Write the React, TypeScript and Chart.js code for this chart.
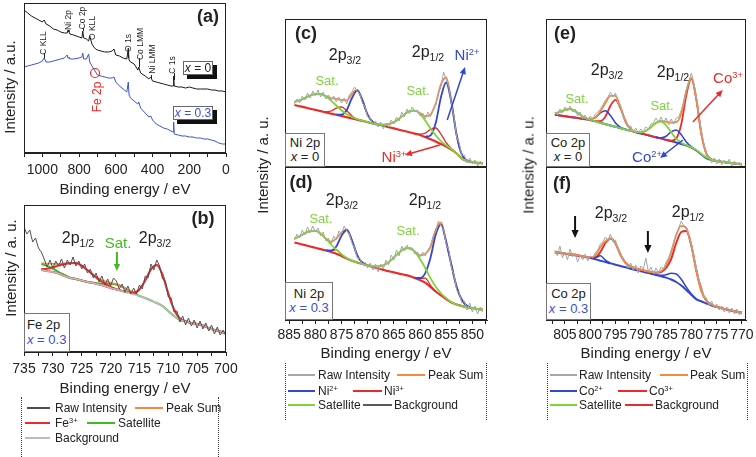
import React, { useEffect, useRef } from "react";
import { Chart, registerables } from "chart.js";
Chart.register(...registerables);

const FF = '"Liberation Sans", Arial, Helvetica, sans-serif';
const INK = "#222222";
const ORANGE = "#f58a3a";
const BLUE = "#3447cf";
const RED = "#ea2b2b";
const LIME = "#7fd43c";
const GREEN_B = "#3fbb20";
const RAW_LIGHT = "#a4a7ab";
const RAW_DARK = "#4d5157";
const BG_LIGHT = "#bdbdbd";
const BG_DARK = "#5a5a5a";
const TXT_BLUE = "#3a4fd0";
const SURVEY_BLUE = "#3a55d5";

// ---------------- (a) survey ----------------
const SURVEY_E = [1100, 1080, 1060, 1040, 1020, 1000, 990, 980, 960, 940, 920, 900, 880, 865, 860, 855, 850, 830, 800, 785, 780, 775, 760, 748, 742, 730, 720, 710, 700, 680, 660, 640, 620, 610, 600, 580, 560, 540, 532, 528, 520, 500, 480, 475, 465, 440, 420, 410, 400, 380, 360, 340, 320, 300, 287, 285, 282, 260, 240, 220, 200, 180, 160, 140, 120, 100, 80, 60, 40, 20, 0];
const SURVEY_X0 = [143, 140, 137, 135, 133, 131, 133, 129, 127, 124, 123, 121, 120, 120, 123, 121, 119, 118, 116, 115, 122, 115, 114, 112, 117, 109, 106, 104, 103, 102, 101, 101, 102, 104, 98, 97, 95, 94, 105, 93, 91, 89, 83, 86, 80, 77, 74, 76, 72, 71, 70, 69, 68, 67, 67, 77, 67, 66, 66, 65, 66, 65, 64, 64, 64, 64, 63, 63, 62, 62, 61];
const SURVEY_X03 = [86, 87, 88, 89, 90, 92, 95, 91, 91, 92, 93, 94, 95, 98, 95, 96, 94, 94, 95, 96, 100, 94, 94, 99, 91, 87, 84, 81, 78, 77, 76, 75, 75, 76, 71, 67, 64, 61, 71, 58, 55, 52, 49, 51, 45, 40, 36, 37, 33, 29, 27, 25, 24, 22, 21, 31, 19, 18, 17, 17, 16, 16, 15, 15, 14, 14, 13, 12, 10, 9, 9];
const SURVEY_TICKS = [0, 100, 200, 300, 400, 500, 600, 700, 800, 900, 1000, 1100];
const SURVEY_LABELS = [0, 200, 400, 600, 800, 1000];

// ---------------- (b) Fe 2p ----------------
const FE_RAW_E = [735, 734.5, 734, 733.5, 733, 732.5, 732, 731.5, 731, 730.5, 730, 729.5, 729, 728.5, 728, 727.5, 727, 726.5, 726, 725.5, 725, 724.5, 724, 723.5, 723, 722.5, 722, 721.5, 721, 720.5, 720, 719.5, 719, 718.5, 718, 717.5, 717, 716.5, 716, 715.5, 715, 714.5, 714, 713.5, 713, 712.5, 712, 711.5, 711, 710.5, 710, 709.5, 709, 708.5, 708, 707.5, 707, 706.5, 706, 705.5, 705, 704.5, 704, 703.5, 703, 702.5, 702, 701.5, 701, 700.5, 700];
const FE_RAW = [125, 118, 122, 110, 114, 104, 100, 93, 85, 92, 84, 91, 86, 93, 84, 92, 87, 95, 86, 91, 83, 88, 79, 83, 74, 79, 70, 76, 67, 73, 66, 74, 71, 63, 68, 60, 66, 58, 64, 58, 67, 63, 76, 74, 88, 82, 92, 86, 73, 71, 55, 54, 40, 41, 30, 36, 27, 34, 26, 32, 24, 31, 23, 29, 21, 27, 18, 25, 17, 22, 16];
const FE_FIT_E = [732, 731, 730, 729, 728, 727, 726, 725, 724, 723, 722, 721, 720, 719, 718, 717, 716, 715, 714, 713, 712, 711, 710, 709, 708, 707, 706, 705, 704, 703, 702, 701, 700];
const FE_BG = [82, 81, 80, 78.5, 76, 74, 73, 71.5, 70, 69, 67.5, 66, 64, 62.5, 61, 59.5, 57.5, 56, 54, 51.5, 49, 46, 41, 36, 32, 30.5, 29, 28, 26.5, 24, 22, 20.5, 18.5];
const FE_SAT = [88, 86, 83.5, 80, 77, 74.3, 73, 71.5, 70, 69.3, 68.6, 68.5, 68.2, 67.5, 65.2, 62, 58.8, 56, 54, 51.5, 49, 46, 41, 36, 32, 30.5, 29, 28, 26.5, 24, 22, 20.5, 18.5];
const FE_P1 = [83, 83.3, 84.7, 86.5, 87.8, 88.8, 89, 86.3, 81.8, 77, 72.2, 68.3, 65, 62.9, 61.1, 59.5, null, null, null, null, null, null, null, null, null, null, null, null, null, null, null, null, null];
const FE_P2 = [82, 81, 80, 78.5, 76, 74, 73, 71.5, 70, 69, 67.5, 66, 64, 62.5, 61, 59.8, 59.1, 62.5, 71.4, 82.7, 87, 77.2, 58.4, 42.5, 33.6, 30.8, 29, 28, 26.5, 24, 22, 20.5, 18.5];
const FE_SUM = [89, 88.3, 88.2, 88, 88.8, 89.1, 89, 86.3, 82.1, 77.3, 73.3, 70.8, 69.2, 67.9, 65.3, 62.3, 60.2, 62.8, 71.4, 82.7, 87, 77.2, 58.4, 42.5, 33.6, 30.8, 29, 28, 26.5, 24, 22, 20.5, 18.5];
const FE_TICKS = [700, 702.5, 705, 707.5, 710, 712.5, 715, 717.5, 720, 722.5, 725, 727.5, 730, 732.5, 735];
const FE_LABELS = [700, 705, 710, 715, 720, 725, 730, 735];

// ---------------- (c), (d) Ni 2p ----------------
const NI_RAW_E = [884, 883.5, 883, 882.5, 882, 881.5, 881, 880.5, 880, 879.5, 879, 878.5, 878, 877.5, 877, 876.5, 876, 875.5, 875, 874.5, 874, 873.5, 873, 872.5, 872, 871.5, 871, 870.5, 870, 869.5, 869, 868.5, 868, 867.5, 867, 866.5, 866, 865.5, 865, 864.5, 864, 863.5, 863, 862.5, 862, 861.5, 861, 860.5, 860, 859.5, 859, 858.5, 858, 857.5, 857, 856.5, 856, 855.5, 855, 854.5, 854, 853.5, 853, 852.5, 852, 851.5, 851, 850.5, 850, 849.5, 849, 848.5, 848];
const NI_FIT_E = [884, 883, 882, 881, 880, 879, 878, 877, 876, 875, 874, 873, 872, 871, 870, 869, 868, 867, 866, 865, 864, 863, 862, 861, 860, 859, 858, 857, 856, 855, 854, 853, 852, 851, 850, 849, 848];
const NI_TICKS = [847.5, 850, 852.5, 855, 857.5, 860, 862.5, 865, 867.5, 870, 872.5, 875, 877.5, 880, 882.5, 885];
const NI_LABELS = [850, 855, 860, 865, 870, 875, 880, 885];

const NI0_RAW = [63, 68, 64, 71, 67, 74, 69, 76, 71, 77, 70, 75, 68, 72, 66, 71, 65, 70, 64, 69, 63, 72, 75, 80, 76, 73, 64, 60, 50, 49, 42, 46, 40, 45, 38, 44, 40, 47, 43, 50, 46, 55, 50, 58, 53, 60, 55, 57, 51, 54, 48, 55, 50, 58, 62, 74, 80, 95, 88, 80, 63, 50, 30, 24, 11, 12, 4, 9, 3, 7, 1, 6, 2];
const NI0_BG = [62, 60.8, 59.6, 58.3, 57.1, 55.9, 54.6, 53.4, 52.2, 51, 49.7, 48.5, 47.3, 46.1, 44.8, 43.6, 42.4, 41.2, 39.9, 38.6, 37.3, 36, 34.7, 33.4, 32, 30, 27.8, 25.5, 23, 20.5, 17.5, 13.5, 8.5, 6, 5, 4.2, 3.7];
const NI0_SAT = [65.1, 66.6, 68.9, 71.3, 73, 72.9, 70.5, 66.4, 61.5, 56.8, 52.8, 50, 47.9, 46.3, 44.8, 43.6, 42.8, 42.3, 42.8, 44.7, 48.2, 52.5, 55.9, 56.4, 53.2, 46.5, 38.7, 31.6, 25.9, 21.6, 17.9, 13.5, 8.5, 6, 5, 4.2, 3.7];
const NI0_NI2 = [null, null, null, null, null, null, null, null, 52.3, 52.3, 57, 69, 76.3, 66.6, 52.1, 44.9, 42.5, null, null, null, null, null, null, null, null, 30.4, 31.6, 43.9, 69.8, 84.5, 64.3, 31.9, 12.3, 6.4, 5, null, null];
const NI0_NI3 = [null, null, null, null, null, null, 55.1, 56, 58.8, 60, 56.3, 51.1, 47.8, 46.1, null, null, null, null, null, null, null, null, null, 33.4, 32.8, 33.9, 37.7, 39, 32.9, 24.4, 18.3, 13.5, null, null, null, null, null];
const NI0_SUM = [65.1, 66.6, 68.9, 71.3, 73, 72.9, 71, 69, 68.2, 67.1, 66.7, 73.1, 77.4, 66.8, 52.1, 44.9, 42.9, 42.3, 42.8, 44.7, 48.2, 52.5, 55.9, 56.4, 54, 50.8, 52.4, 63.5, 82.6, 89.5, 65.5, 31.9, 12.3, 6.4, 5, 4.2, 3.7];

const NI03_RAW = [80, 86, 82, 90, 85, 93, 87, 94, 88, 92, 84, 88, 79, 82, 76, 84, 80, 89, 86, 94, 89, 86, 77, 72, 62, 62, 55, 58, 52, 57, 50, 56, 48, 56, 51, 60, 55, 65, 60, 70, 64, 74, 69, 75, 70, 72, 66, 68, 63, 68, 64, 70, 74, 84, 88, 99, 95, 90, 76, 70, 52, 45, 30, 27, 17, 19, 10, 17, 8, 14, 6, 13, 8];
const NI03_BG = [77.5, 76.2, 74.9, 73.5, 72.2, 70.9, 69.5, 68, 66.3, 64, 61.5, 59.3, 57.5, 56, 54.5, 53, 51.5, 50, 48.8, 47.6, 46.4, 45.2, 44, 42, 40, 37.3, 33, 28.5, 24.6, 21, 17.5, 15.5, 14, 12.6, 11.8, 11, 10.5];
const NI03_SAT = [81.5, 83.7, 86.7, 89, 89.2, 86.4, 81.3, 75.5, 70.3, 65.8, 62.1, 59.4, 57.5, 56, 54.8, 53.9, 53.6, 54.7, 57.7, 62.3, 67.4, 71.3, 72, 68.1, 61, 52, 41.9, 33.2, 26.7, 21.9, 17.8, 15.5, 14, 12.6, 11.8, 11, 10.5];
const NI03_NI2 = [null, null, null, null, null, null, 69.6, 69.3, 73.5, 84.2, 90, 79.5, 64.7, 57.3, 54.6, null, null, null, null, null, null, null, null, 42.3, 42, 46.9, 62.2, 85.3, 95.6, 77.8, 55, 33, 20, 14, 11.8, null, null];
const NI03_NI3 = [null, null, null, null, null, null, 69.6, 69.5, 70.3, 65.5, 61.6, null, null, null, null, null, null, null, null, null, null, null, null, 42, 41.7, 41.8, 34.7, 28.6, null, null, null, null, null, null, null, null, null];
const NI03_SUM = [81.5, 83.7, 86.7, 89, 89.2, 86.4, 81.5, 78.3, 81.5, 87.5, 90.7, 79.6, 64.7, 57.3, 54.9, 53.9, 53.6, 54.7, 57.7, 62.3, 67.4, 71.3, 72, 68.4, 64.7, 66.1, 72.8, 90.1, 97.7, 78.7, 55.3, 33, 20, 14, 11.8, 11, 10.5];

// ---------------- (e), (f) Co 2p ----------------
const CO_RAW_E = [807, 806.5, 806, 805.5, 805, 804.5, 804, 803.5, 803, 802.5, 802, 801.5, 801, 800.5, 800, 799.5, 799, 798.5, 798, 797.5, 797, 796.5, 796, 795.5, 795, 794.5, 794, 793.5, 793, 792.5, 792, 791.5, 791, 790.5, 790, 789.5, 789, 788.5, 788, 787.5, 787, 786.5, 786, 785.5, 785, 784.5, 784, 783.5, 783, 782.5, 782, 781.5, 781, 780.5, 780, 779.5, 779, 778.5, 778, 777.5, 777, 776.5, 776, 775.5, 775, 774.5, 774, 773.5, 773, 772.5, 772, 771.5, 771, 770.5, 770];
const CO_FIT_E = [807, 806, 805, 804, 803, 802, 801, 800, 799, 798, 797, 796, 795, 794, 793, 792, 791, 790, 789, 788, 787, 786, 785, 784, 783, 782, 781, 780, 779, 778, 777, 776, 775, 774, 773, 772, 771, 770];
const CO_TICKS = [770, 772.5, 775, 777.5, 780, 782.5, 785, 787.5, 790, 792.5, 795, 797.5, 800, 802.5, 805, 807.5];
const CO_LABELS = [770, 775, 780, 785, 790, 795, 800, 805];

const CO0_RAW = [55, 52, 58, 54, 60, 56, 61, 55, 58, 51, 55, 48, 52, 46, 51, 47, 53, 55, 58, 62, 67, 70, 75, 70, 74, 63, 62, 50, 48, 40, 41, 35, 39, 34, 38, 35, 40, 38, 43, 44, 49, 45, 50, 44, 49, 42, 48, 43, 49, 50, 57, 66, 78, 86, 94, 84, 70, 52, 36, 22, 14, 10, 4, 9, 3, 8, 2, 7, 3, 8, 1, 6, 2, 5, 1];
const CO0_BG = [52.5, 51.5, 50.7, 50, 49.4, 48.6, 47.8, 47, 45.6, 44.2, 42.8, 41.5, 40.2, 38.8, 37.5, 36.2, 34.8, 33.5, 32.3, 31, 29.7, 28.5, 27.2, 25.9, 24.5, 23, 21.5, 19.5, 16.5, 12.5, 8.7, 7, 6, 5.2, 4.5, 3.8, 3.2, 2.7];
const CO0_SAT = [53.8, 55.1, 57.2, 58, 55.9, 52.2, 49.1, 47.3, 45.6, 44.2, 42.8, 41.5, 40.2, 38.8, 37.5, 36.2, 35.1, 34.7, 36.1, 39.8, 44.1, 45.5, 41.6, 34.7, 28.3, 24.2, 21.8, 19.8, 17, 13, 9.5, 7.3, 6.2, 5.3, 4.6, 3.9, 3.3, 2.8];
const CO0_CO2 = [null, null, null, null, null, null, 47.8, 47.8, 49.5, 54.1, 56.3, 51.4, 44.1, 39.6, 37.5, null, null, null, null, null, 29.7, 29.2, 30.8, 35.1, 37, 32.2, 25.1, 20.2, 16.5, null, null, null, null, null, null, null, null, null];
const CO0_CO3 = [52.5, 51.5, 50.7, 50, 49.4, 48.6, 47.8, 47, 45.8, 45.8, 50.5, 61.3, 67.2, 58.6, 45.2, 37.8, 35, 33.5, 32.3, 31, 29.7, 28.5, 27.2, 26.4, 28.6, 42.8, 72, 88.5, 67, 32.3, 12.8, 7.5, 6, 5.2, 4.5, 3.8, 3.2, 2.7];
const CO0_SUM = [53.8, 55.1, 57.2, 58, 55.9, 52.2, 49.1, 48.1, 49.7, 55.7, 64, 71.2, 71.1, 59.4, 45.2, 37.8, 35.3, 34.7, 36.1, 39.8, 44.1, 46.2, 45.2, 44.4, 44.9, 53.2, 75.9, 89.2, 67, 32.3, 12.8, 7.5, 6, 5.2, 4.5, 3.8, 3.2, 2.7];

const CO03_RAW = [70, 64, 74, 62, 68, 60, 71, 63, 67, 58, 65, 60, 66, 59, 64, 62, 67, 70, 76, 78, 83, 80, 86, 78, 80, 70, 67, 60, 58, 52, 57, 50, 55, 47, 54, 51, 62, 48, 53, 46, 52, 47, 53, 51, 58, 62, 70, 78, 86, 92, 99, 94, 93, 84, 74, 62, 52, 40, 34, 24, 22, 15, 19, 12, 16, 10, 14, 8, 13, 7, 12, 6, 11, 5, 9];
const CO03_BG = [67.6, 67, 66.3, 65.5, 64.8, 64, 63, 62, 60.6, 59.3, 58, 56.6, 55.3, 54, 52.7, 51.3, 50, 48.8, 47.5, 46.3, 45, 43.7, 42.4, 40.5, 38, 34.5, 30, 25, 20.7, 18.5, 16.5, 14.5, 13, 11.8, 10.5, 9.3, 8.2, 7.2];
const CO03_CO2 = [null, null, null, null, null, null, null, 62, 62.4, 64.3, 59.8, 56.7, null, null, null, null, null, null, null, 46.3, 45.2, 44.6, 45.3, 46.7, 46, 40.7, 32.9, 25.9, 20.9, 18.5, null, null, null, null, null, null, null, null];
const CO03_CO3 = [67.9, 67.3, 66.6, 65.8, 65.1, 64.3, 63.3, 62.3, 62.5, 68, 77, 81.5, 76.5, 65, 57, 53.5, 51.5, 50.3, 49, 48, 47.3, 48, 52, 61, 77, 88, 89, 74, 49, 29, 19, 15.5, 13.2, 11.8, 10.5, 9.3, 8.2, 7.2];
const CO03_SUM = [67.9, 67.3, 66.6, 65.8, 65.1, 64.3, 63.3, 62.3, 64.3, 73, 78.8, 81.6, 76.5, 65, 57, 53.5, 51.5, 50.3, 49, 48, 47.45, 48.9, 54.9, 67.2, 85, 94.2, 91.9, 74.9, 49.2, 29, 19, 15.5, 13.2, 11.8, 10.5, 9.3, 8.2, 7.2];

// ---------------- chart plumbing ----------------
const PADX = 20;
const PADT = 2;

type Series = { e: number[]; v: (number | null)[]; color: string; w: number; smooth?: boolean };
type Arrow = { from: [number, number]; to: [number, number]; color: string; w?: number; head?: number };
type Stem = { e: number; lo: number; hi: number; color: string };
type Ring = { e: number; v: number; r: number; color: string };
type PanelSpec = {
  rect: [number, number, number, number];
  showX: boolean;
  xh: number;
  tickPad: number;
  xMin: number;
  xMax: number;
  yMax: number;
  ticks: number[];
  labels: number[];
  series: Series[];
  arrows?: Arrow[];
  stems?: Stem[];
  rings?: Ring[];
};

const framePlugin = {
  id: "frame",
  afterDatasetsDraw(chart: any) {
    const { ctx, chartArea: a } = chart;
    ctx.save();
    ctx.strokeStyle = INK;
    ctx.lineWidth = 1;
    ctx.strokeRect(Math.round(a.left) + 0.5, Math.round(a.top) + 0.5, Math.round(a.right - a.left) - 1, Math.round(a.bottom - a.top) - 1);
    ctx.restore();
  },
};

function makeAnnot(s: PanelSpec) {
  return {
    id: "annot",
    afterDatasetsDraw(chart: any) {
      const { ctx } = chart;
      const X = (e: number) => chart.scales.x.getPixelForValue(e);
      const Y = (v: number) => chart.scales.y.getPixelForValue(v);
      ctx.save();
      for (const st of s.stems || []) {
        ctx.strokeStyle = st.color;
        ctx.lineWidth = 1;
        const x = Math.round(X(st.e)) + 0.5;
        ctx.beginPath();
        ctx.moveTo(x, Y(st.lo));
        ctx.lineTo(x, Y(st.hi));
        ctx.stroke();
      }
      for (const r of s.rings || []) {
        ctx.strokeStyle = r.color;
        ctx.lineWidth = 1.2;
        ctx.beginPath();
        ctx.arc(X(r.e), Y(r.v), r.r, 0, Math.PI * 2);
        ctx.stroke();
      }
      for (const a of s.arrows || []) {
        const x1 = X(a.from[0]), y1 = Y(a.from[1]), x2 = X(a.to[0]), y2 = Y(a.to[1]);
        const ang = Math.atan2(y2 - y1, x2 - x1);
        const hl = a.head ?? 7, hw = hl * 0.45;
        const c = Math.cos(ang), sn = Math.sin(ang);
        ctx.strokeStyle = a.color;
        ctx.fillStyle = a.color;
        ctx.lineWidth = a.w ?? 1.5;
        ctx.beginPath();
        ctx.moveTo(x1, y1);
        ctx.lineTo(x2 - hl * 0.8 * c, y2 - hl * 0.8 * sn);
        ctx.stroke();
        ctx.beginPath();
        ctx.moveTo(x2, y2);
        ctx.lineTo(x2 - hl * c + hw * sn, y2 - hl * sn - hw * c);
        ctx.lineTo(x2 - hl * c - hw * sn, y2 - hl * sn + hw * c);
        ctx.closePath();
        ctx.fill();
      }
      ctx.restore();
    },
  };
}

function buildConfig(s: PanelSpec): any {
  return {
    type: "line",
    data: {
      datasets: s.series.map((d) => ({
        data: d.e.map((x, i) => ({ x, y: d.v[i] })),
        borderColor: d.color,
        borderWidth: d.w,
        pointRadius: 0,
        pointHoverRadius: 0,
        fill: false,
        tension: 0,
        cubicInterpolationMode: d.smooth ? "monotone" : "default",
        spanGaps: false,
      })),
    },
    options: {
      animation: false,
      responsive: false,
      devicePixelRatio: 1,
      events: [],
      layout: { padding: { left: PADX, right: PADX, top: PADT, bottom: s.showX ? 0 : PADT } },
      plugins: { legend: { display: false }, tooltip: { enabled: false }, title: { display: false } },
      scales: {
        x: {
          type: "linear",
          reverse: true,
          min: s.xMin,
          max: s.xMax,
          display: s.showX,
          afterBuildTicks: (sc: any) => {
            sc.ticks = s.ticks.map((value) => ({ value }));
          },
          afterFit: (sc: any) => {
            sc.height = s.showX ? s.xh : 0;
          },
          grid: { display: true, drawOnChartArea: false, drawTicks: true, tickLength: 4, color: INK, tickColor: INK, lineWidth: 1 },
          border: { display: true, color: INK, width: 1 },
          ticks: {
            autoSkip: false,
            maxRotation: 0,
            minRotation: 0,
            padding: s.tickPad,
            color: INK,
            font: { family: FF, size: 14 },
            callback: (v: any) => (s.labels.indexOf(Number(v)) >= 0 ? String(v) : ""),
          },
          title: { display: true, text: "Binding energy / eV", color: INK, font: { family: FF, size: 15 }, padding: { top: 0, bottom: 0 } },
        },
        y: { type: "linear", display: false, min: 0, max: s.yMax },
      },
    },
    plugins: [framePlugin, makeAnnot(s)],
  };
}

function PanelChart({ spec }: { spec: PanelSpec }) {
  const ref = useRef<HTMLCanvasElement>(null);
  useEffect(() => {
    const chart = new Chart(ref.current as HTMLCanvasElement, buildConfig(spec));
    return () => chart.destroy();
  }, []);
  const [l, t, w, h] = spec.rect;
  const cw = w + 2 * PADX;
  const ch = h + PADT + (spec.showX ? spec.xh : PADT);
  return <canvas ref={ref} width={cw} height={ch} style={{ position: "absolute", left: l - PADX, top: t - PADT, width: cw, height: ch }} />;
}

const PANELS: PanelSpec[] = [
  {
    rect: [24, 3, 202, 150], showX: true, xh: 46, tickPad: 5, xMin: 0, xMax: 1100, yMax: 150, ticks: SURVEY_TICKS, labels: SURVEY_LABELS,
    series: [
      { e: SURVEY_E, v: SURVEY_X0, color: "#1a1a1a", w: 1 },
      { e: SURVEY_E, v: SURVEY_X03, color: SURVEY_BLUE, w: 1 },
    ],
    stems: [
      { e: 990, lo: 95, hi: 100, color: INK },
      { e: 780, lo: 122, hi: 125, color: INK },
      { e: 532, lo: 95, hi: 103, color: INK },
      { e: 475, lo: 86, hi: 95, color: INK },
      { e: 410, lo: 74, hi: 78, color: INK },
      { e: 285, lo: 73, hi: 80, color: INK },
    ],
    rings: [{ e: 713, v: 80, r: 4.5, color: RED }],
  },
  {
    rect: [24, 205, 202, 147], showX: true, xh: 46, tickPad: 5, xMin: 700, xMax: 735, yMax: 147, ticks: FE_TICKS, labels: FE_LABELS,
    series: [
      { e: FE_RAW_E, v: FE_RAW, color: RAW_DARK, w: 1 },
      { e: FE_FIT_E, v: FE_BG, color: BG_LIGHT, w: 1.5, smooth: true },
      { e: FE_FIT_E, v: FE_P1, color: RED, w: 2, smooth: true },
      { e: FE_FIT_E, v: FE_P2, color: RED, w: 2, smooth: true },
      { e: FE_FIT_E, v: FE_SUM, color: ORANGE, w: 1.6, smooth: true },
      { e: FE_FIT_E, v: FE_SAT, color: GREEN_B, w: 2, smooth: true },
    ],
    arrows: [{ from: [718.9, 100], to: [718.9, 81], color: GREEN_B, w: 2, head: 7 }],
  },
  {
    rect: [285, 19, 202, 148], showX: false, xh: 43, tickPad: 3, xMin: 847.2, xMax: 885.8, yMax: 148, ticks: NI_TICKS, labels: NI_LABELS,
    series: [
      { e: NI_RAW_E, v: NI0_RAW, color: RAW_LIGHT, w: 1 },
      { e: NI_FIT_E, v: NI0_SAT, color: LIME, w: 1.8, smooth: true },
      { e: NI_FIT_E, v: NI0_NI2, color: BLUE, w: 1.8, smooth: true },
      { e: NI_FIT_E, v: NI0_NI3, color: RED, w: 1.3, smooth: true },
      { e: NI_FIT_E, v: NI0_SUM, color: ORANGE, w: 1.8, smooth: true },
      { e: NI_FIT_E, v: NI0_BG, color: RED, w: 2.2, smooth: true },
    ],
    arrows: [
      { from: [854.8, 47], to: [851.4, 100], color: BLUE, w: 1.5, head: 7 },
      { from: [856.2, 22], to: [862.9, 12], color: RED, w: 1.5, head: 7 },
    ],
  },
  {
    rect: [285, 167, 202, 153], showX: true, xh: 43, tickPad: 3, xMin: 847.2, xMax: 885.8, yMax: 153, ticks: NI_TICKS, labels: NI_LABELS,
    series: [
      { e: NI_RAW_E, v: NI03_RAW, color: RAW_LIGHT, w: 1 },
      { e: NI_FIT_E, v: NI03_SAT, color: LIME, w: 1.8, smooth: true },
      { e: NI_FIT_E, v: NI03_NI2, color: BLUE, w: 1.8, smooth: true },
      { e: NI_FIT_E, v: NI03_NI3, color: RED, w: 1.3, smooth: true },
      { e: NI_FIT_E, v: NI03_SUM, color: ORANGE, w: 1.8, smooth: true },
      { e: NI_FIT_E, v: NI03_BG, color: RED, w: 2.2, smooth: true },
    ],
  },
  {
    rect: [546, 19, 200, 148], showX: false, xh: 43, tickPad: 3, xMin: 769.2, xMax: 808.75, yMax: 148, ticks: CO_TICKS, labels: CO_LABELS,
    series: [
      { e: CO_RAW_E, v: CO0_RAW, color: RAW_LIGHT, w: 1 },
      { e: CO_FIT_E, v: CO0_SAT, color: LIME, w: 1.8, smooth: true },
      { e: CO_FIT_E, v: CO0_SUM, color: ORANGE, w: 1.8, smooth: true },
      { e: CO_FIT_E, v: CO0_CO2, color: BLUE, w: 1.6, smooth: true },
      { e: CO_FIT_E, v: CO0_CO3, color: RED, w: 1.8, smooth: true },
      { e: CO_FIT_E, v: CO0_BG, color: BLUE, w: 2, smooth: true },
    ],
    arrows: [
      { from: [779.7, 45], to: [773.8, 77], color: RED, w: 1.5, head: 7 },
      { from: [781.7, 27], to: [786.2, 9], color: BLUE, w: 1.5, head: 7 },
    ],
  },
  {
    rect: [546, 167, 200, 153], showX: true, xh: 43, tickPad: 3, xMin: 769.2, xMax: 808.75, yMax: 153, ticks: CO_TICKS, labels: CO_LABELS,
    series: [
      { e: CO_RAW_E, v: CO03_RAW, color: RAW_LIGHT, w: 1 },
      { e: CO_FIT_E, v: CO03_CO2, color: BLUE, w: 1.6, smooth: true },
      { e: CO_FIT_E, v: CO03_SUM, color: ORANGE, w: 1.8, smooth: true },
      { e: CO_FIT_E, v: CO03_CO3, color: RED, w: 2, smooth: true },
      { e: CO_FIT_E, v: CO03_BG, color: BLUE, w: 2, smooth: true },
    ],
    arrows: [
      { from: [803, 104], to: [803, 82], color: "#111", w: 2, head: 8 },
      { from: [788.6, 89], to: [788.6, 67], color: "#111", w: 2, head: 8 },
    ],
  },
];

// ---------------- overlay helpers ----------------
type TP = { x: number; y: number; size?: number; color?: string; bold?: boolean; rot?: boolean; children: React.ReactNode };
function Txt({ x, y, size = 14, color = INK, bold, rot, children }: TP) {
  return (
    <div
      style={{
        position: "absolute",
        left: x,
        top: y,
        transform: `translate(-50%, -50%)${rot ? " rotate(-90deg)" : ""}`,
        fontSize: size,
        color,
        fontWeight: bold ? 700 : 400,
        whiteSpace: "nowrap",
        lineHeight: 1,
        fontFamily: FF,
      }}
    >
      {children}
    </div>
  );
}
const Sub = ({ children }: { children: React.ReactNode }) => <span style={{ fontSize: "0.66em", position: "relative", top: "0.35em" }}>{children}</span>;
const Sup = ({ children }: { children: React.ReactNode }) => <span style={{ fontSize: "0.62em", position: "relative", top: "-0.55em" }}>{children}</span>;

function InfoBox({ l, t, w, h, a, b, blue, size = 13, left }: { l: number; t: number; w: number; h: number; a: string; b: string; blue?: boolean; size?: number; left?: boolean }) {
  return (
    <div
      style={{
        position: "absolute", left: l, top: t, width: w, height: h, boxSizing: "border-box", border: "1px solid #777",
        background: "#fff", display: "flex", flexDirection: "column", justifyContent: "center", alignItems: left ? "flex-start" : "center",
        paddingLeft: left ? 2 : 0, fontSize: size, lineHeight: 1.1, fontFamily: FF, color: INK, whiteSpace: "nowrap",
      }}
    >
      <div>{a}</div>
      <div style={{ color: blue ? TXT_BLUE : INK }}>
        <i>x</i> = {b}
      </div>
    </div>
  );
}

function TagBox({ l, t, w, h, blue, children }: { l: number; t: number; w: number; h: number; blue?: boolean; children: React.ReactNode }) {
  return (
    <div
      style={{
        position: "absolute", left: l, top: t, width: w, height: h, boxSizing: "border-box", border: "1px solid #666",
        background: "#fff", boxShadow: "4px 4px 0 #111", display: "flex", alignItems: "center", justifyContent: "center",
        fontSize: 12, lineHeight: 1, fontFamily: FF, color: blue ? TXT_BLUE : INK, whiteSpace: "nowrap",
      }}
    >
      {children}
    </div>
  );
}

const Swatch = ({ x1, x2, y, color }: { x1: number; x2: number; y: number; color: string }) => (
  <div style={{ position: "absolute", left: x1, top: y - 1, width: x2 - x1, height: 2, background: color }} />
);
const LTxt = ({ x, y, children }: { x: number; y: number; children: React.ReactNode }) => (
  <div style={{ position: "absolute", left: x, top: y, transform: "translateY(-50%)", fontSize: 12, lineHeight: 1, whiteSpace: "nowrap", color: INK, fontFamily: FF }}>
    {children}
  </div>
);
const VDots = ({ x, t, b }: { x: number; t: number; b: number }) => (
  <div style={{ position: "absolute", left: x, top: t, height: b - t, borderLeft: "1px dotted #333" }} />
);

export default function App() {
  return (
    <div style={{ position: "fixed", left: 0, top: 0, width: 756, height: 457, background: "#fff", overflow: "hidden", fontFamily: FF, color: INK }}>
      {PANELS.map((p, i) => (
        <PanelChart key={i} spec={p} />
      ))}

      {/* axis titles */}
      <Txt x={9} y={87} size={15} rot>Intensity / a.u.</Txt>
      <Txt x={10} y={268} size={15} rot>Intensity / a. u.</Txt>
      <Txt x={262} y={165} size={15} rot>Intensity / a. u.</Txt>
      <Txt x={528} y={165} size={15} rot>Intensity / a. u.</Txt>

      {/* (a) */}
      <Txt x={208} y={16} size={18} bold>(a)</Txt>
      <Txt x={43} y={43} size={8.5} rot>C KLL</Txt>
      <Txt x={68} y={20} size={8.5} rot>Ni 2p</Txt>
      <Txt x={82} y={18} size={8.5} rot>Co 2p</Txt>
      <Txt x={92} y={28} size={8.5} rot>O KLL</Txt>
      <Txt x={128} y={43} size={8.5} rot>O 1s</Txt>
      <Txt x={140} y={44} size={8.5} rot>Co LMM</Txt>
      <Txt x={152} y={59} size={8.5} rot>Ni LMM</Txt>
      <Txt x={172} y={65} size={8.5} rot>C 1s</Txt>
      <Txt x={97} y={97} size={12} color={RED} rot>Fe 2p</Txt>
      <TagBox l={183} t={61} w={30} h={14}><i>x</i>&nbsp;= 0</TagBox>
      <TagBox l={173} t={106} w={40} h={14} blue><i>x</i>&nbsp;= 0.3</TagBox>

      {/* (b) */}
      <Txt x={203} y={218} size={18} bold>(b)</Txt>
      <Txt x={78} y={238} size={16}>2p<Sub>1/2</Sub></Txt>
      <Txt x={118} y={242} size={15} color={GREEN_B}>Sat.</Txt>
      <Txt x={155} y={238} size={16}>2p<Sub>3/2</Sub></Txt>
      <InfoBox l={24} t={313} w={46} h={39} a="Fe 2p" b="0.3" blue size={13} left />

      {/* (c) */}
      <Txt x={306} y={33} size={18} bold>(c)</Txt>
      <Txt x={345} y={55} size={16}>2p<Sub>3/2</Sub></Txt>
      <Txt x={428} y={52} size={16}>2p<Sub>1/2</Sub></Txt>
      <Txt x={467} y={55} size={15} color={BLUE}>Ni<Sup>2+</Sup></Txt>
      <Txt x={327} y={80} size={13} color={LIME}>Sat.</Txt>
      <Txt x={418} y={90} size={13} color={LIME}>Sat.</Txt>
      <Txt x={394} y={157} size={15} color={RED}>Ni<Sup>3+</Sup></Txt>
      <InfoBox l={285} t={133} w={40} h={34} a="Ni 2p" b="0" />

      {/* (d) */}
      <Txt x={301} y={182} size={18} bold>(d)</Txt>
      <Txt x={342} y={200} size={16}>2p<Sub>3/2</Sub></Txt>
      <Txt x={425} y={200} size={16}>2p<Sub>1/2</Sub></Txt>
      <Txt x={321} y={218} size={13} color={LIME}>Sat.</Txt>
      <Txt x={408} y={230} size={13} color={LIME}>Sat.</Txt>
      <InfoBox l={285} t={282} w={48} h={38} a="Ni 2p" b="0.3" blue />

      {/* (e) */}
      <Txt x={565} y={33} size={18} bold>(e)</Txt>
      <Txt x={607} y={70} size={16}>2p<Sub>3/2</Sub></Txt>
      <Txt x={673} y={72} size={16}>2p<Sub>1/2</Sub></Txt>
      <Txt x={728} y={78} size={15} color={RED}>Co<Sup>3+</Sup></Txt>
      <Txt x={577} y={98} size={13} color={LIME}>Sat.</Txt>
      <Txt x={662} y={105} size={13} color={LIME}>Sat.</Txt>
      <Txt x={647} y={157} size={15} color={BLUE}>Co<Sup>2+</Sup></Txt>
      <InfoBox l={546} t={133} w={44} h={34} a="Co 2p" b="0" />

      {/* (f) */}
      <Txt x={562} y={183} size={18} bold>(f)</Txt>
      <Txt x={611} y={213} size={16}>2p<Sub>3/2</Sub></Txt>
      <Txt x={688} y={212} size={16}>2p<Sub>1/2</Sub></Txt>
      <InfoBox l={546} t={283} w={45} h={37} a="Co 2p" b="0.3" blue />

      {/* legend (b) */}
      <VDots x={21} t={397} b={457} />
      <VDots x={218} t={397} b={457} />
      <Swatch x1={27} x2={50} y={408} color={RAW_DARK} />
      <LTxt x={55} y={408}>Raw Intensity</LTxt>
      <Swatch x1={135} x2={163} y={408} color={ORANGE} />
      <LTxt x={166} y={408}>Peak Sum</LTxt>
      <Swatch x1={25} x2={50} y={423} color={RED} />
      <LTxt x={55} y={423}>Fe<Sup>3+</Sup></LTxt>
      <Swatch x1={87} x2={115} y={423} color={GREEN_B} />
      <LTxt x={118} y={423}>Satellite</LTxt>
      <Swatch x1={25} x2={50} y={438} color={BG_LIGHT} />
      <LTxt x={55} y={438}>Background</LTxt>

      {/* legend (c,d) */}
      <VDots x={285} t={363} b={420} />
      <VDots x={486} t={363} b={420} />
      <Swatch x1={288} x2={315} y={375} color={RAW_LIGHT} />
      <LTxt x={318} y={375}>Raw Intensity</LTxt>
      <Swatch x1={397} x2={425} y={375} color={ORANGE} />
      <LTxt x={428} y={375}>Peak Sum</LTxt>
      <Swatch x1={288} x2={315} y={391} color={BLUE} />
      <LTxt x={318} y={391}>Ni<Sup>2+</Sup></LTxt>
      <Swatch x1={353} x2={382} y={391} color={RED} />
      <LTxt x={384} y={391}>Ni<Sup>3+</Sup></LTxt>
      <Swatch x1={288} x2={315} y={405} color={LIME} />
      <LTxt x={318} y={405}>Satellite</LTxt>
      <Swatch x1={363} x2={392} y={405} color={BG_DARK} />
      <LTxt x={394} y={405}>Background</LTxt>

      {/* legend (e,f) */}
      <VDots x={547} t={363} b={420} />
      <VDots x={747} t={363} b={420} />
      <Swatch x1={550} x2={577} y={375} color={RAW_LIGHT} />
      <LTxt x={579} y={375}>Raw Intensity</LTxt>
      <Swatch x1={660} x2={688} y={375} color={ORANGE} />
      <LTxt x={690} y={375}>Peak Sum</LTxt>
      <Swatch x1={550} x2={577} y={391} color={BLUE} />
      <LTxt x={579} y={391}>Co<Sup>2+</Sup></LTxt>
      <Swatch x1={618} x2={647} y={391} color={RED} />
      <LTxt x={649} y={391}>Co<Sup>3+</Sup></LTxt>
      <Swatch x1={550} x2={577} y={405} color={LIME} />
      <LTxt x={579} y={405}>Satellite</LTxt>
      <Swatch x1={625} x2={653} y={405} color={RED} />
      <LTxt x={655} y={405}>Background</LTxt>
    </div>
  );
}
